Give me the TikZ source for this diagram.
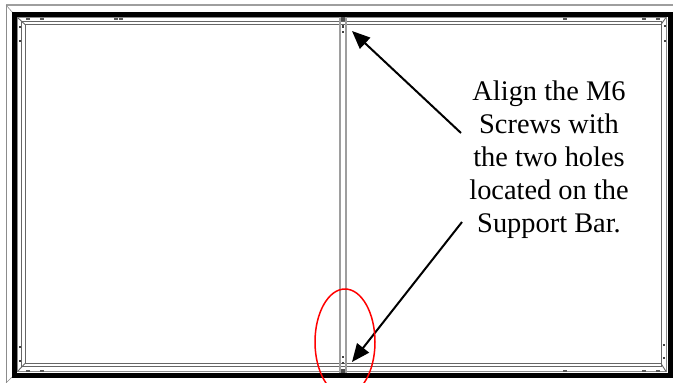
\documentclass[tikz,border=0pt]{standalone}
\usepackage{fontspec}
\setmainfont{Liberation Serif}
\usetikzlibrary{shapes.geometric,arrows.meta}
\tikzset{frameline/.style={draw=black!60,line width=0.9pt},
  heavyline/.style={draw=black!38,line width=2pt},
  pointer/.style={draw=black,line width=2pt,-{Triangle[length=18pt,width=15pt]}},
  hole/.style={fill=black!75,minimum size=2.4pt,inner sep=0pt},
  slot/.style={fill=black!65,minimum width=4pt,minimum height=2.6pt,inner sep=0pt},
  lug/.style={fill=black!70,minimum size=4pt,inner sep=0pt},
  note/.style={align=center,font=\fontsize{28.4}{33}\selectfont},
  marker/.style={ellipse,draw=red,line width=1.5pt,minimum width=60pt,minimum height=106pt,inner sep=0pt}}

\begin{document}
\begin{tikzpicture}[x=1pt,y=-1pt]
\useasboundingbox (0,0) rectangle (673,383);
\clip (0,0) rectangle (673,383);

% outer sheet
\draw[heavyline] (673,5) -- (6,5);
\draw[draw=black!45,line width=0.6pt] (6,5) -- (6,383);
\draw[draw=black!45,line width=0.6pt] (6,5) -- (13,13);
\draw[draw=black!45,line width=0.6pt] (6,383) -- (13,376);

% frame
\draw[black,line width=5.5pt] (14.5,14.5) rectangle (670.5,375.5);
\draw[frameline,draw=black!45] (17.5,17.5) rectangle (666,371.5);
\draw[frameline] (21.5,21) rectangle (661,366.5);
\draw[frameline] (25,24.5) rectangle (661,363.5);
\draw[frameline] (17.5,17.5) -- (25,24.5);
\draw[frameline] (666,17.5) -- (661,24.5);
\draw[frameline] (17.5,371.5) -- (25,363.5);
\draw[frameline] (666,371.5) -- (661,363.5);

% support bar
\draw[heavyline] (340,17) -- (340,373);
\draw[heavyline] (346,17) -- (346,373);

% screws
\node[hole] (top1) at (343,26.5) {};
\node[hole] (top2) at (343,32) {};
\node[hole] (bot1) at (343,357) {};
\node[hole] (bot2) at (343,363) {};
\node[lug] (toplug) at (343,19) {};
\node[lug] (botlug) at (343,371) {};
\foreach \px/\py in {28/19,41.5/19,116/19,121/19,565/19,644/19,658/19,28/371,41.5/371,565/371,644/371,658/371}
  \node[slot] at (\px,\py) {};
\foreach \px/\py in {20/27,20/41,665/26,665/41,20/347,20/361,664/345,664/358}
  \node[hole] at (\px,\py) {};

% label
\node[note] (label) at (549,159.5) {Align the M6\\Screws with\\the two holes\\located on the\\Support Bar.};
\coordinate (from1) at (461,133);
\coordinate (tip1) at (352,31);
\coordinate (from2) at (462,222);
\coordinate (tip2) at (352,362);
\draw[pointer] (from1) -- (tip1);
\draw[pointer] (from2) -- (tip2);

\node[marker] (ring) at (345,342) {};

\end{tikzpicture}
\end{document}
